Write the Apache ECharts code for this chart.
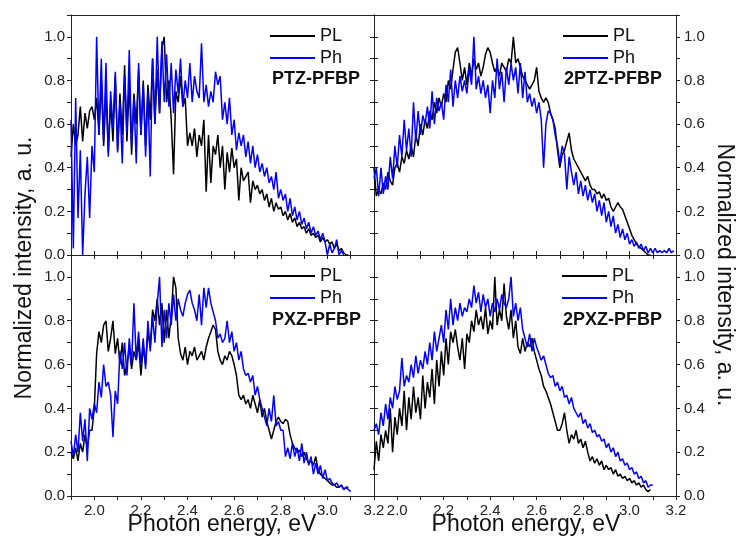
<!DOCTYPE html>
<html><head><meta charset="utf-8">
<script src="https://cdn.jsdelivr.net/npm/echarts@6/dist/echarts.min.js"></script>
<style>html,body{margin:0;padding:0;background:#fff}#c{width:738px;height:542px}</style>
</head><body><div id="c"></div>
<script>
const energy = [1.90,1.91,1.92,1.93,1.94,1.95,1.96,1.97,1.98,1.99,
2.00,2.01,2.02,2.03,2.04,2.05,2.06,2.07,2.08,2.09,
2.10,2.11,2.12,2.13,2.14,2.15,2.16,2.17,2.18,2.19,
2.20,2.21,2.22,2.23,2.24,2.25,2.26,2.27,2.28,2.29,
2.30,2.31,2.32,2.33,2.34,2.35,2.36,2.37,2.38,2.39,
2.40,2.41,2.42,2.43,2.44,2.45,2.46,2.47,2.48,2.49,
2.50,2.51,2.52,2.53,2.54,2.55,2.56,2.57,2.58,2.59,
2.60,2.61,2.62,2.63,2.64,2.65,2.66,2.67,2.68,2.69,
2.70,2.71,2.72,2.73,2.74,2.75,2.76,2.77,2.78,2.79,
2.80,2.81,2.82,2.83,2.84,2.85,2.86,2.87,2.88,2.89,
2.90,2.91,2.92,2.93,2.94,2.95,2.96,2.97,2.98,2.99,
3.00,3.01,3.02,3.03,3.04,3.05,3.06,3.07,3.08,3.09,
3.10,3.11,3.12,3.13,3.14,3.15,3.16,3.17,3.18,3.19,3.20];

const panelNames = ['PTZ-PFBP','2PTZ-PFBP','PXZ-PFBP','2PXZ-PFBP'];
const seriesNames = ['PL','Ph'];
const xTicks = ['2.0','2.2','2.4','2.6','2.8','3.0','3.2'];
const yTicks = ['0.0','0.2','0.4','0.6','0.8','1.0'];

const plA = [0.45,0.60,0.50,0.55,0.68,0.52,0.65,0.58,0.66,0.68,
0.62,0.72,0.55,0.80,0.50,0.75,0.47,0.70,0.52,0.82,
0.48,0.74,0.55,0.87,0.52,0.80,0.46,0.74,0.60,0.85,
0.55,0.80,0.50,0.78,0.62,0.90,0.60,0.85,0.65,0.95,
1.00,0.70,0.80,0.62,0.37,0.75,0.70,0.82,0.68,0.72,
0.50,0.56,0.50,0.58,0.45,0.55,0.50,0.62,0.29,0.55,
0.33,0.50,0.46,0.55,0.40,0.50,0.30,0.47,0.38,0.49,
0.40,0.44,0.25,0.40,0.34,0.36,0.38,0.24,0.34,0.30,
0.32,0.28,0.30,0.25,0.28,0.22,0.26,0.20,0.24,0.21,
0.22,0.18,0.20,0.16,0.19,0.15,0.17,0.13,0.15,0.12,
0.13,0.10,0.12,0.09,0.10,0.08,0.09,0.06,0.08,0.06,
0.07,0.05,0.06,0.03,0.05,0.02,0.03,0.01,0.00,0.00];
const phA = [0.62,0.03,0.72,0.17,0.48,0.00,0.28,0.45,0.17,0.50,
0.38,1.00,0.55,0.90,0.52,0.88,0.45,0.75,0.58,0.84,
0.47,0.70,0.42,0.82,0.56,0.94,0.50,0.72,0.42,0.88,
0.55,0.78,0.45,0.75,0.36,0.90,0.60,1.00,0.65,0.98,
0.70,0.92,0.68,0.88,0.65,0.85,0.74,0.90,0.68,0.80,
0.72,0.88,0.70,0.82,0.75,0.72,0.97,0.70,0.78,0.68,
0.75,0.70,0.84,0.78,0.82,0.62,0.70,0.60,0.72,0.55,
0.62,0.48,0.56,0.50,0.55,0.45,0.52,0.42,0.50,0.40,
0.46,0.38,0.42,0.36,0.40,0.33,0.36,0.30,0.38,0.26,
0.30,0.25,0.28,0.20,0.26,0.18,0.22,0.16,0.20,0.14,
0.17,0.12,0.15,0.10,0.13,0.09,0.11,0.07,0.10,0.06,
0.00,0.05,0.01,0.03,0.07,0.00,0.02,0.00];
const plB = [0.40,0.27,0.30,0.28,0.33,0.30,0.38,0.34,0.32,0.40,
0.42,0.38,0.45,0.42,0.48,0.44,0.50,0.45,0.55,0.50,
0.60,0.55,0.62,0.58,0.66,0.62,0.70,0.65,0.72,0.68,
0.74,0.70,0.80,0.76,0.85,0.93,0.95,0.88,0.80,0.86,
0.78,0.88,0.82,0.90,0.85,0.88,0.82,0.86,0.92,0.95,
0.93,0.88,0.84,0.86,0.82,0.88,0.86,0.84,0.90,0.88,
1.00,0.88,0.90,0.86,0.82,0.80,0.78,0.76,0.78,0.80,
0.86,0.75,0.72,0.70,0.72,0.70,0.65,0.62,0.58,0.48,
0.40,0.46,0.48,0.52,0.56,0.48,0.44,0.42,0.40,0.38,
0.36,0.34,0.36,0.32,0.30,0.30,0.28,0.29,0.26,0.28,
0.25,0.26,0.22,0.20,0.22,0.24,0.22,0.21,0.18,0.15,
0.12,0.09,0.07,0.05,0.04,0.03,0.02,0.01,0.00,0.00];
const phB = [0.35,0.40,0.27,0.40,0.28,0.36,0.30,0.45,0.35,0.50,
0.40,0.55,0.45,0.62,0.48,0.58,0.45,0.70,0.52,0.66,
0.55,0.64,0.60,0.68,0.58,0.75,0.60,0.72,0.66,0.70,
0.62,0.78,0.70,0.85,0.68,0.80,0.72,0.82,0.75,0.80,
0.74,0.86,0.78,1.00,0.76,0.82,0.74,0.80,0.72,0.78,
0.65,0.80,0.72,0.90,0.76,0.84,0.70,0.86,0.78,0.88,
0.80,0.86,0.74,0.88,0.72,0.84,0.70,0.74,0.68,0.72,
0.65,0.70,0.62,0.40,0.60,0.66,0.65,0.62,0.55,0.50,
0.42,0.50,0.46,0.30,0.45,0.38,0.32,0.38,0.28,0.34,
0.27,0.32,0.25,0.30,0.24,0.28,0.20,0.25,0.18,0.24,
0.15,0.20,0.13,0.18,0.10,0.14,0.08,0.12,0.07,0.10,
0.05,0.07,0.04,0.06,0.03,0.05,0.02,0.04,0.01,0.03,
0.01,0.03,0.01,0.02,0.01,0.02,0.01,0.03,0.01,0.02];
const plC = [0.20,0.17,0.22,0.16,0.24,0.20,0.28,0.22,0.30,0.30,
0.40,0.65,0.75,0.70,0.78,0.80,0.66,0.72,0.80,0.65,
0.72,0.60,0.70,0.55,0.60,0.68,0.58,0.66,0.62,0.70,
0.55,0.68,0.60,0.75,0.68,0.85,0.80,0.90,0.78,0.88,
0.70,0.85,0.72,0.82,1.00,0.95,0.72,0.65,0.62,0.68,
0.60,0.66,0.64,0.68,0.62,0.64,0.66,0.62,0.68,0.72,
0.75,0.78,0.76,0.66,0.62,0.60,0.64,0.62,0.66,0.64,
0.60,0.55,0.46,0.44,0.46,0.42,0.44,0.40,0.46,0.42,
0.38,0.44,0.36,0.40,0.34,0.30,0.26,0.30,0.34,0.36,
0.34,0.33,0.35,0.34,0.28,0.24,0.22,0.20,0.21,0.18,
0.20,0.17,0.15,0.16,0.14,0.18,0.12,0.10,0.09,0.08,
0.07,0.06,0.05,0.05,0.04,0.04,0.05,0.03,0.04,0.04];
const phC = [0.25,0.18,0.28,0.20,0.38,0.25,0.35,0.16,0.40,0.35,
0.42,0.38,0.52,0.45,0.60,0.50,0.52,0.46,0.27,0.48,
0.42,0.66,0.58,0.70,0.55,0.72,0.60,0.88,0.62,0.75,
0.60,0.72,0.58,0.80,0.66,0.82,0.70,0.88,1.00,0.68,
0.85,0.72,0.88,0.78,0.92,0.80,0.90,0.85,0.82,0.88,
0.92,0.94,0.88,0.85,0.80,0.92,0.78,0.95,0.86,0.95,
0.88,0.84,0.80,0.72,0.74,0.70,0.72,0.80,0.70,0.75,
0.66,0.70,0.62,0.66,0.58,0.55,0.56,0.52,0.55,0.46,
0.50,0.44,0.40,0.36,0.32,0.40,0.34,0.46,0.32,0.34,
0.30,0.30,0.18,0.22,0.17,0.24,0.18,0.22,0.16,0.24,
0.15,0.20,0.14,0.18,0.10,0.15,0.10,0.14,0.08,0.12,
0.07,0.08,0.06,0.05,0.06,0.04,0.05,0.03,0.04,0.03,0.02];
const plD = [0.12,0.25,0.16,0.28,0.22,0.30,0.24,0.40,0.20,0.36,
0.28,0.40,0.32,0.48,0.30,0.45,0.35,0.50,0.38,0.45,
0.35,0.55,0.40,0.52,0.45,0.58,0.42,0.62,0.50,0.66,
0.55,0.72,0.60,0.75,0.70,0.76,0.68,0.62,0.72,0.58,
0.74,0.70,0.80,0.75,0.85,0.78,0.82,0.76,0.86,0.74,
0.80,0.76,1.00,0.78,0.85,0.80,0.97,0.82,0.76,0.85,
0.72,0.80,0.68,0.65,0.72,0.66,0.70,0.68,0.72,0.66,
0.62,0.58,0.55,0.50,0.48,0.45,0.42,0.38,0.34,0.30,
0.30,0.33,0.38,0.30,0.24,0.28,0.26,0.30,0.24,0.26,
0.22,0.25,0.20,0.16,0.18,0.15,0.17,0.14,0.16,0.12,
0.14,0.12,0.13,0.10,0.12,0.09,0.10,0.08,0.09,0.07,
0.08,0.06,0.07,0.05,0.06,0.04,0.05,0.03,0.02,0.03];
const phD = [0.30,0.33,0.28,0.38,0.32,0.42,0.35,0.45,0.40,0.50,
0.44,0.48,0.63,0.50,0.55,0.52,0.60,0.54,0.64,0.56,
0.62,0.58,0.66,0.60,0.70,0.62,0.75,0.66,0.72,0.78,
0.70,0.85,0.76,0.90,0.78,0.86,0.80,0.88,0.82,0.86,
0.84,0.90,0.86,0.96,0.88,0.93,0.84,0.92,0.86,0.90,
0.82,0.88,0.84,0.90,0.85,0.92,0.88,0.86,0.90,1.00,
0.82,0.88,0.80,0.86,0.76,0.72,0.68,0.74,0.66,0.72,
0.68,0.65,0.62,0.64,0.60,0.56,0.54,0.55,0.50,0.52,
0.48,0.50,0.45,0.46,0.42,0.45,0.40,0.38,0.36,0.38,
0.33,0.35,0.31,0.33,0.29,0.30,0.27,0.28,0.25,0.26,
0.22,0.24,0.20,0.22,0.18,0.20,0.16,0.17,0.14,0.15,
0.12,0.13,0.10,0.11,0.08,0.09,0.06,0.07,0.04,0.05,0.05];

const panelData = [[plA, phA],[plB, phB],[plC, phC],[plD, phD]];

const FONT = 'Liberation Sans, Arial, sans-serif';
const AXC = '#222';
const grids = [
  {left:71, top:15, width:303, height:240},
  {left:374, top:15, width:302, height:240},
  {left:71, top:255, width:303, height:241},
  {left:374, top:255, width:302, height:241}
];

function xLabel(v){
  const k = Math.round(v*10);
  const s = (k/10).toFixed(1);
  return (k % 2 === 0 && xTicks.indexOf(s) >= 0) ? s : '';
}
function yLabel(v){
  const k = Math.round(v*10);
  const s = (k/10).toFixed(1);
  return (k % 2 === 0 && yTicks.indexOf(s) >= 0) ? s : '';
}

const xAxes = [], yAxes = [], series = [], legends = [], titles = [];
const tickStyle = {show:true, length:4, inside:false, lineStyle:{color:AXC, width:1}};
grids.forEach((g, i) => {
  const bottomRow = i >= 2;
  const rightCol = i % 2 === 1;
  xAxes.push({type:'value', gridIndex:i, position:'bottom', min:1.9, max:3.2, interval:0.1,
    axisLine:{show:true, onZero:false, lineStyle:{color:AXC, width:1}},
    axisTick:tickStyle, splitLine:{show:false},
    axisLabel:{show:bottomRow, formatter:xLabel, fontFamily:FONT, fontSize:15, color:'#222', margin:7,
      showMinLabel:true, showMaxLabel:true, hideOverlap:false}});
  yAxes.push({type:'value', gridIndex:i, position:'left', min:0, max:1.1, interval:0.1,
    axisLine:{show:true, onZero:false, lineStyle:{color:AXC, width:1}},
    axisTick:tickStyle, splitLine:{show:false},
    axisLabel:{show:!rightCol, formatter:yLabel, fontFamily:FONT, fontSize:15, color:'#222', margin:6}});
});
grids.forEach((g, i) => {
  const bottomRow = i >= 2;
  const rightCol = i % 2 === 1;
  xAxes.push({type:'value', gridIndex:i, position:'top', min:1.9, max:3.2, interval:0.1,
    axisLine:{show:true, onZero:false, lineStyle:{color:AXC, width:1}},
    axisTick:Object.assign({}, tickStyle, {show:bottomRow}), splitLine:{show:false},
    axisLabel:{show:false}});
  yAxes.push({type:'value', gridIndex:i, position:'right', min:0, max:1.1, interval:0.1,
    axisLine:{show:true, onZero:false, lineStyle:{color:AXC, width:1}},
    axisTick:tickStyle, splitLine:{show:false},
    axisLabel:{show:rightCol, formatter:yLabel, fontFamily:FONT, fontSize:15, color:'#222', margin:8}});
});

const colors = ['#000000', '#0000ff'];
panelData.forEach((pair, i) => {
  pair.forEach((vals, j) => {
    series.push({
      type:'line', name:seriesNames[j], xAxisIndex:i, yAxisIndex:i,
      data: vals.map((v, k) => [energy[k], v]),
      showSymbol:false, symbol:'none', color:colors[j],
      lineStyle:{color:colors[j], width:1.5}, animation:false, z:2+j
    });
  });
});

const legendPos = [
  {left:270, top:26}, {left:563, top:26}, {left:270, top:266}, {left:562, top:266}
];
const labelPos = [
  {left:272, top:70}, {left:564, top:70}, {left:272, top:311}, {left:563, top:311}
];
legendPos.forEach((p, i) => {
  legends.push({data:seriesNames.slice(), orient:'vertical', left:p.left, top:p.top,
    icon:'rect', itemWidth:45, itemHeight:2, itemGap:2, selectedMode:false, padding:0,
    textStyle:{fontFamily:FONT, fontSize:18, color:'#111', lineHeight:20}});
  titles.push({text:panelNames[i], left:labelPos[i].left, top:labelPos[i].top, padding:0,
    textStyle:{fontFamily:FONT, fontSize:18, fontWeight:'bold', color:'#111'}});
});

const chart = echarts.init(document.getElementById('c'), null, {renderer:'canvas'});
chart.setOption({
  animation:false,
  backgroundColor:'#fff',
  title: titles,
  legend: legends,
  grid: grids.map(g => Object.assign({show:false, containLabel:false}, g)),
  xAxis: xAxes,
  yAxis: yAxes,
  series: series,
  graphic: [
    {type:'text', x:222, y:525, style:{text:'Photon energy, eV', fontFamily:FONT, fontSize:23, fill:'#111', textAlign:'center', textVerticalAlign:'middle'}},
    {type:'text', x:526, y:525, style:{text:'Photon energy, eV', fontFamily:FONT, fontSize:23, fill:'#111', textAlign:'center', textVerticalAlign:'middle'}},
    {type:'text', x:25, y:268, rotation:Math.PI/2, style:{text:'Normalized intensity, a. u.', fontFamily:FONT, fontSize:23, fill:'#111', textAlign:'center', textVerticalAlign:'middle'}},
    {type:'text', x:724, y:275, rotation:-Math.PI/2, style:{text:'Normalized intensity, a. u.', fontFamily:FONT, fontSize:23, fill:'#111', textAlign:'center', textVerticalAlign:'middle'}}
  ]
});
</script></body></html>
